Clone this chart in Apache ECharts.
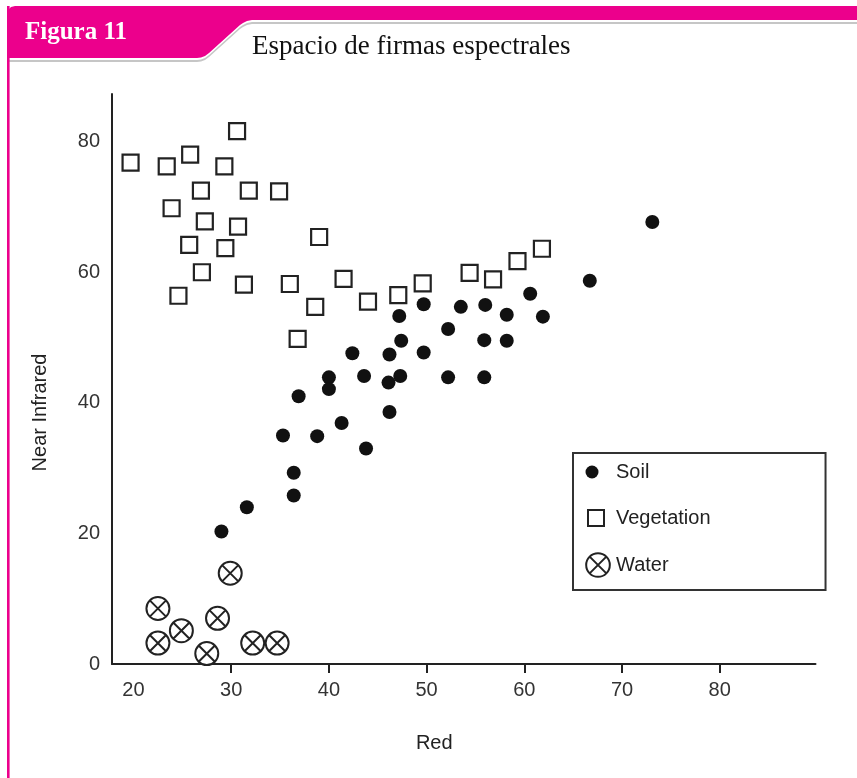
<!DOCTYPE html>
<html>
<head>
<meta charset="utf-8">
<script src="https://cdn.jsdelivr.net/npm/echarts@6/dist/echarts.min.js"></script>
<style>
html,body{margin:0;padding:0;background:#fff;}
#chart{width:857px;height:778px;}
</style>
</head>
<body>
<div id="chart"></div>
<script>
// ---- Data (Red, Near Infrared) ----
const soilRed = [49.7, 53.5, 56.0, 58.2, 47.2, 52.2, 47.4, 55.9, 58.2, 42.4, 46.2, 49.7, 40.0, 43.6, 47.3, 46.1, 52.2, 55.9, 40.0, 36.9, 46.2, 41.3, 35.3, 38.8, 43.8, 36.4, 36.4, 31.6, 29.0, 73.1, 66.7, 60.6, 61.9];
const soilNIR = [55.1, 54.7, 55.0, 53.5, 53.3, 51.3, 49.5, 49.6, 49.5, 47.6, 47.4, 47.7, 43.9, 44.1, 44.1, 43.1, 43.9, 43.9, 42.1, 41.0, 38.6, 36.9, 35.0, 34.9, 33.0, 29.3, 25.8, 24.0, 20.3, 67.7, 58.7, 56.7, 53.2];

const vegRed = [30.6, 19.7, 23.4, 25.8, 29.3, 26.9, 31.8, 34.9, 23.9, 27.3, 30.7, 25.7, 29.4, 39.0, 27.0, 24.6, 31.3, 36.0, 41.5, 38.6, 36.8, 44.0, 47.1, 49.6, 54.4, 56.8, 59.3, 61.8];
const vegNIR = [81.6, 76.8, 76.2, 78.0, 76.2, 72.5, 72.5, 72.4, 69.8, 67.8, 67.0, 64.2, 63.7, 65.4, 60.0, 56.4, 58.1, 58.2, 59.0, 54.7, 49.8, 55.5, 56.5, 58.3, 59.9, 58.9, 61.7, 63.6];

const waterRed = [22.5, 22.5, 24.9, 27.5, 28.6, 29.9, 32.2, 34.7];
const waterNIR = [8.5, 3.2, 5.1, 1.6, 7.0, 13.9, 3.2, 3.2];

const seriesNames = ['Soil', 'Vegetation', 'Water'];
const xTickValues = [30, 40, 50, 60, 70, 80];
const xLabelValues = [20, 30, 40, 50, 60, 70, 80];
const yLabelValues = [0, 20, 40, 60, 80];
const xName = 'Red';
const yName = 'Near Infrared';
const figLabel = 'Figura 11';
const figTitle = 'Espacio de firmas espectrales';

const pair = (a, b) => a.map((v, i) => [v, b[i]]);

const PINK = '#EC008C';
const INK = '#222';
const waterSymbol = 'path://M0,-10A10,10,0,1,1,0,10A10,10,0,1,1,0,-10Z M-7.07,-7.07L7.07,7.07 M7.07,-7.07L-7.07,7.07';
const soilLegendIcon = 'path://M-13,-13M13,13M-12.5,0A6.5,6.5,0,1,1,0.5,0A6.5,6.5,0,1,1,-12.5,0Z';
const vegLegendIcon = 'path://M-13,-13M13,13M-10,-8L6,-8L6,8L-10,8Z';
const waterLegendIcon = 'path://M-11,-11M11,11M0,-10A10,10,0,1,1,0,10A10,10,0,1,1,0,-10Z M-7.07,-7.07L7.07,7.07 M7.07,-7.07L-7.07,7.07';

// header band outline (pink tab + top strip)
const headerPts = [[7,14],[8,10],[11,7],[15,6],[857,6],[857,20],[252,20],[247,21],[243,23],[240,25],[209,53],[205,56],[201,57.5],[197,58],[7,58]];
const shift = (pts, dy) => pts.map(p => [p[0], p[1] + dy]);

const chart = echarts.init(document.getElementById('chart'), null, {renderer: 'canvas'});
chart.setOption({
  animation: false,
  backgroundColor: '#fff',
  textStyle: {fontFamily: 'Liberation Sans'},
  grid: {left: 112, right: 41.5, top: 94, bottom: 114, containLabel: false},
  xAxis: {
    type: 'value', min: 17.8, max: 89.8,
    name: xName, nameLocation: 'middle', nameGap: 69,
    nameTextStyle: {fontSize: 20, color: INK, fontFamily: 'Liberation Sans', padding: [0, 59, 0, 0]},
    axisLine: {show: true, lineStyle: {color: INK, width: 2}},
    axisTick: {show: true, inside: false, length: 9, customValues: xTickValues, lineStyle: {color: INK, width: 2}},
    axisLabel: {show: true, margin: 16, fontSize: 20, color: '#333', fontFamily: 'Liberation Sans', customValues: xLabelValues},
    splitLine: {show: false}
  },
  yAxis: {
    type: 'value', min: 0, max: 87.3,
    name: yName, nameLocation: 'middle', nameGap: 62,
    nameTextStyle: {fontSize: 20, color: INK, fontFamily: 'Liberation Sans', padding: [0, 67, 0, 0]},
    axisLine: {show: true, lineStyle: {color: INK, width: 2}},
    axisTick: {show: false},
    axisLabel: {show: true, margin: 12, fontSize: 20, color: '#333', fontFamily: 'Liberation Sans', customValues: yLabelValues},
    splitLine: {show: false}
  },
  legend: {
    orient: 'vertical', left: 573, top: 453,
    padding: [6, 115, 11, 11], itemGap: 19, itemWidth: 26, itemHeight: 26,
    borderColor: '#333', borderWidth: 2, backgroundColor: '#fff',
    selectedMode: false,
    textStyle: {fontSize: 20, color: INK, fontFamily: 'Liberation Sans'},
    data: [
      {name: seriesNames[0], icon: soilLegendIcon},
      {name: seriesNames[1], icon: vegLegendIcon},
      {name: seriesNames[2], icon: waterLegendIcon}
    ]
  },
  series: [
    {name: seriesNames[0], type: 'scatter', data: pair(soilRed, soilNIR), symbol: 'circle', symbolSize: 14,
     itemStyle: {color: '#111', opacity: 1}, silent: true},
    {name: seriesNames[1], type: 'scatter', data: pair(vegRed, vegNIR), symbol: 'rect', symbolSize: 16,
     itemStyle: {color: '#fff', borderColor: INK, borderWidth: 2.2, opacity: 1}, silent: true},
    {name: seriesNames[2], type: 'scatter', data: pair(waterRed, waterNIR), symbol: waterSymbol, symbolSize: 23,
     itemStyle: {color: '#fff', borderColor: INK, borderWidth: 2, opacity: 1}, silent: true}
  ],
  graphic: {
    elements: [
      {type: 'polygon', shape: {points: shift(headerPts, 4)}, style: {fill: '#c6c6c6'}, silent: true, z: 1},
      {type: 'polygon', shape: {points: shift(headerPts, 2)}, style: {fill: '#fff'}, silent: true, z: 2},
      {type: 'polygon', shape: {points: headerPts}, style: {fill: PINK}, silent: true, z: 3},
      {type: 'rect', shape: {x: 7, y: 6, width: 2.6, height: 772}, style: {fill: PINK}, silent: true, z: 4},
      {type: 'text', x: 25, y: 33, z: 5, silent: true,
       style: {text: figLabel, fill: '#fff', font: 'bold 25px "Liberation Serif"', verticalAlign: 'middle'}},
      {type: 'text', x: 252, y: 47, z: 5, silent: true,
       style: {text: figTitle, fill: '#111', font: '27px "Liberation Serif"', verticalAlign: 'middle'}}
    ]
  }
});
</script>
</body>
</html>
